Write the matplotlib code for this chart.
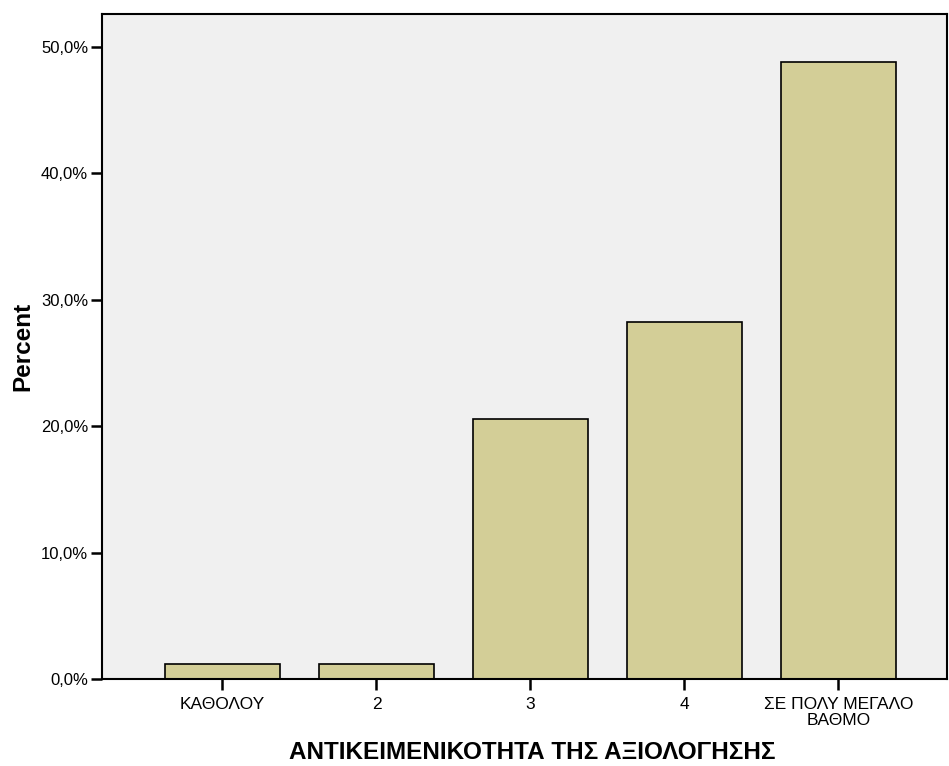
import matplotlib
matplotlib.use("Agg")
import matplotlib.pyplot as plt
import numpy as np

plt.rcParams['font.family'] = ['Liberation Sans', 'DejaVu Sans']

categories = ["ΚΑΘΟΛΟΥ", "2", "3", "4", "ΣΕ ΠΟΛΥ ΜΕΓΑΛΟ\nΒΑΘΜΟ"]
percent = [1.2, 1.2, 20.6, 28.2, 48.8]
yticks = [0, 10, 20, 30, 40, 50]

fig = plt.figure(figsize=(9.49, 7.66), dpi=100)
ax = fig.add_axes([0.1075, 0.1136, 0.8904, 0.8681])
ax.set_facecolor('#F0F0F0')

x = np.arange(len(categories))
ax.bar(x, percent, width=0.747, color='#D3CE97', edgecolor='black', linewidth=1.2, zorder=2)

ax.set_xlim(-0.782, 4.705)
ax.set_ylim(0, 52.6)
ax.set_xticks(x)
ax.set_xticklabels(categories, fontsize=12.5, linespacing=1.05)
ax.set_yticks(yticks)
ax.set_yticklabels(['%d,0%%' % v for v in yticks], fontsize=12)
ax.tick_params(axis='both', direction='out', length=8, width=1.8, color='black')
ax.tick_params(axis='x', pad=5)
ax.tick_params(axis='y', pad=2)

for s in ax.spines.values():
    s.set_linewidth(1.5)
    s.set_color('black')

ax.set_ylabel('Percent', fontsize=17.5, fontweight='bold', labelpad=5)
ax.set_xlabel('ΑΝΤΙΚΕΙΜΕΝΙΚΟΤΗΤΑ ΤΗΣ ΑΞΙΟΛΟΓΗΣΗΣ', fontsize=17.5, fontweight='bold')
ax.xaxis.set_label_coords(0.509, -0.094)

fig.savefig('out.png', dpi=100)
